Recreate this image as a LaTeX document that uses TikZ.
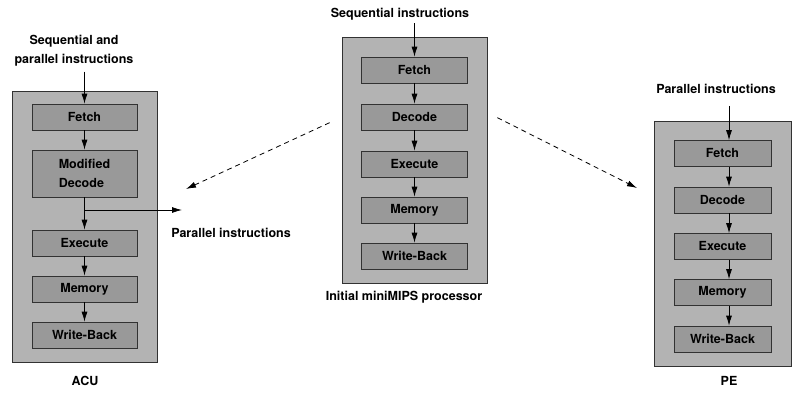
\documentclass[tikz,border=0pt]{standalone}
\usepackage{fontspec}
\setmainfont{TeX Gyre Heros}
\usetikzlibrary{arrows.meta, positioning, calc}
\definecolor{unitgray}{RGB}{179, 179, 179}
\definecolor{stagegray}{RGB}{153, 153, 153}
\definecolor{edgegray}{RGB}{50, 50, 50}
\newcommand{\lblfont}{\fontsize{12.5}{19}\selectfont\bfseries}
\tikzset{
  unit/.style={rectangle, draw=edgegray, fill=unitgray, line width=0.7pt, inner sep=0pt},
  stage/.style={rectangle, draw=edgegray, fill=stagegray, line width=0.7pt, minimum height=26pt, inner sep=0pt, font=\lblfont},
  lbl/.style={font=\lblfont, inner sep=0pt},
  flow/.style={-{Latex[length=10pt, width=6pt]}, line width=0.8pt},
  hint/.style={flow, dash pattern=on 5pt off 4pt},
}

\begin{document}
\begin{tikzpicture}[x=1pt, y=-1pt]
    \useasboundingbox (0,0) rectangle (792,395);

    % ACU
    \node[unit, minimum width=145pt, minimum height=271pt] (acu) at (84.5,226.5) {};
    \node[stage, minimum width=105pt] (af) at (84.5,117) {Fetch};
    \node[stage, minimum width=105pt, minimum height=47pt, align=left] (ad) at (84.5,173.5) {Modified\\Decode};
    \node[stage, minimum width=105pt] (ae) at (84.5,243) {Execute};
    \node[stage, minimum width=105pt] (am) at (84.5,289) {Memory};
    \node[stage, minimum width=105pt] (aw) at (84.5,335) {Write-Back};
    \node[lbl, align=center] (ain) at (74,51) {Sequential and\\parallel instructions};
    \node[lbl] (aname) at (85,381) {ACU};
    \node[lbl] (apar) at (231,233) {Parallel instructions};
    \draw[flow, shorten <=5pt] (af.north |- ain.south) -- (af.north);
    \draw[flow] (af) -- (ad);
    \draw[flow] (ad) -- (ae);
    \draw[flow] (ae) -- (am);
    \draw[flow] (am) -- (aw);
    \coordinate (abr) at (ad.south |- 0,210);
    \coordinate (aout) at (182,210);
    \draw[flow] (abr) -- (aout);

    % miniMIPS
    \node[unit, minimum width=145pt, minimum height=246pt] (mips) at (414.5,160) {};
    \node[stage, minimum width=106pt] (mf) at (414.5,70) {Fetch};
    \node[stage, minimum width=106pt] (md) at (414.5,117) {Decode};
    \node[stage, minimum width=106pt] (me) at (414.5,164) {Execute};
    \node[stage, minimum width=106pt] (mm) at (414.5,210) {Memory};
    \node[stage, minimum width=106pt] (mw) at (414.5,256) {Write-Back};
    \node[lbl] (min) at (400,14) {Sequential instructions};
    \node[lbl] (mname) at (404,297) {Initial miniMIPS processor};
    \draw[flow, shorten <=3pt] (mf.north |- min.south) -- (mf.north);
    \draw[flow] (mf) -- (md);
    \draw[flow] (md) -- (me);
    \draw[flow] (me) -- (mm);
    \draw[flow] (mm) -- (mw);

    % PE
    \node[unit, minimum width=137.5pt, minimum height=245pt] (pe) at (722.75,243.5) {};
    \node[stage, minimum width=97pt] (pf) at (722.5,153.5) {Fetch};
    \node[stage, minimum width=97pt] (pd) at (722.5,200) {Decode};
    \node[stage, minimum width=97pt] (px) at (722.5,246.5) {Execute};
    \node[stage, minimum width=97pt] (pm) at (722.5,292.5) {Memory};
    \node[stage, minimum width=97pt] (pw) at (722.5,339) {Write-Back};
    \node[lbl] (pin) at (716,89) {Parallel instructions};
    \node[lbl] (pname) at (729,381) {PE};
    \draw[flow, shorten <=12pt] ([xshift=6.5pt]pf.north |- pin.south) -- ([xshift=6.5pt]pf.north);
    \draw[flow] ([xshift=6.5pt]pf.south) -- ([xshift=6.5pt]pd.north);
    \draw[flow] ([xshift=6.5pt]pd.south) -- ([xshift=6.5pt]px.north);
    \draw[flow] ([xshift=6.5pt]px.south) -- ([xshift=6.5pt]pm.north);
    \draw[flow] ([xshift=6.5pt]pm.south) -- ([xshift=6.5pt]pw.north);

    % derivation
    \coordinate (lsrc) at ($(mips.north west)+(-12,86)$);
    \coordinate (ldst) at (186,189);
    \coordinate (rsrc) at ($(mips.north east)+(10,81)$);
    \coordinate (rdst) at (637,188);
    \draw[hint] (lsrc) -- (ldst);
    \draw[hint] (rsrc) -- (rdst);
\end{tikzpicture}
\end{document}
